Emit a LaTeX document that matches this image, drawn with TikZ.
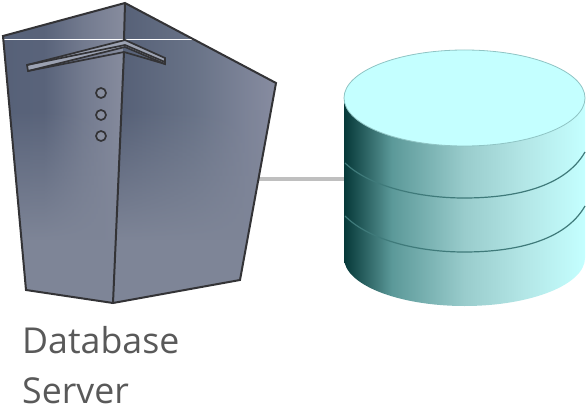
\documentclass[tikz,border=0pt]{standalone}
\usepackage{fontspec}
\setmainfont{Open Sans}
\usetikzlibrary{fadings}
\definecolor{edgeC}{HTML}{333336}
\definecolor{srvLight}{HTML}{878D9E}
\definecolor{srvLow}{HTML}{7E8597}
\definecolor{srvStrip}{HTML}{9CA2B2}
\definecolor{cylTop}{HTML}{C4FFFF}
\definecolor{cylRim}{HTML}{8FC4C4}
\definecolor{cylBand}{HTML}{3F7A7A}
\definecolor{textC}{HTML}{595959}
\tikzfading[name=fadelow, top color=transparent!100, bottom color=transparent!0]
\pgfdeclarehorizontalshading{cylshade}{100bp}{rgb(0bp)=(0.02,0.22,0.22);rgb(25bp)=(0.02,0.22,0.22);rgb(35bp)=(0.36,0.60,0.60);rgb(50bp)=(0.60,0.80,0.80);rgb(62bp)=(0.70,0.90,0.90);rgb(75bp)=(0.77,1,1);rgb(100bp)=(0.77,1,1)}
\pgfdeclarehorizontalshading{srvleft}{100bp}{rgb(0bp)=(0.34,0.38,0.47);rgb(25bp)=(0.34,0.38,0.47);rgb(42bp)=(0.35,0.39,0.48);rgb(58bp)=(0.45,0.48,0.56);rgb(75bp)=(0.53,0.55,0.62);rgb(100bp)=(0.53,0.55,0.62)}
\pgfdeclarehorizontalshading{srvright}{100bp}{rgb(0bp)=(0.33,0.37,0.46);rgb(25bp)=(0.33,0.37,0.46);rgb(50bp)=(0.41,0.45,0.53);rgb(75bp)=(0.53,0.55,0.63);rgb(100bp)=(0.53,0.55,0.63)}
\tikzset{
  edgeline/.style={draw=edgeC,line width=2pt,line join=miter},
  leftface/.style={shading=srvleft},
  rightface/.style={shading=srvright},
  lowveil/.style={fill=srvLow,path fading=fadelow},
  stripface/.style={fill=srvStrip,draw=edgeC,line width=1.7pt,line join=miter},
  lamp/.style={circle,minimum size=10pt,inner sep=0pt,draw=edgeC,line width=1.7pt,fill=srvLight},
  cylbody/.style={shading=cylshade},
  cylcap/.style={fill=cylTop,draw=cylRim,line width=.8pt},
  band/.style={draw=cylBand,line width=1.2pt},
  linkline/.style={draw=black!25,line width=3.5pt},
  caption/.style={text=textC,font=\fontsize{35.7}{51}\selectfont,align=left,anchor=base west,inner sep=0pt},
  anchorpt/.style={inner sep=0pt,minimum size=0pt}
}
\begin{document}
\begin{tikzpicture}[x=1pt,y=-1pt]
\useasboundingbox (0,0) rectangle (586,409);
% connector
\node[anchorpt] (srv) at (258,179) {};
\node[anchorpt] (db) at (346,179) {};
\draw[linkline] (srv) -- (db);
% server faces
\path[leftface] (3,36) -- (125,3) -- (113,303) -- (26,290) -- cycle;
\path[rightface] (125,3) -- (276,83) -- (240,280) -- (113,303) -- cycle;
\begin{scope}
\clip (3,36) -- (125,3) -- (276,83) -- (240,280) -- (113,303) -- (26,290) -- cycle;
\path[lowveil] (0,110) rectangle (280,240);
\fill[srvLow] (0,239.5) rectangle (280,305);
\end{scope}
\draw[white,line width=.9pt] (4,39) -- (192,39);
% strip
\path[stripface] (27,65) -- (125,40) -- (165,58) -- (165,64) -- (125,47) -- (28,71) -- cycle;
\draw[edgeC,line width=1.7pt] (27,65) -- (125,45) -- (165,62);
\draw[edgeC,line width=1.7pt] (28,71) -- (124,52) -- (165,64);
% outline
\draw[edgeline] (3,36) -- (125,3) -- (276,83) -- (240,280) -- (113,303) -- (26,290) -- cycle;
\draw[edgeline] (125,3) -- (124,40);
\draw[edgeline] (124,52) -- (113,303);
% lamps
\node[lamp] (l1) at (101,93) {};
\node[lamp] (l2) at (101,115) {};
\node[lamp] (l3) at (101,136) {};
% cylinder
\path[cylbody] (344,98) -- (344,258) arc[start angle=180,end angle=0,x radius=120.5,y radius=48] -- (585,98) -- cycle;
\draw[band] (345,163) .. controls (370,187) and (420,198) .. (464,198) .. controls (515,198) and (565,187) .. (585,152);
\draw[band] (345,216) .. controls (370,241) and (420,252) .. (464,252) .. controls (515,252) and (565,241) .. (585,206);
\path[cylcap] (464.5,98) ellipse[x radius=120.5,y radius=48];
% caption
\node[caption] (cap1) at (22,353) {Database};
\node[caption] (cap2) at (22,403) {Server};
\end{tikzpicture}
\end{document}
